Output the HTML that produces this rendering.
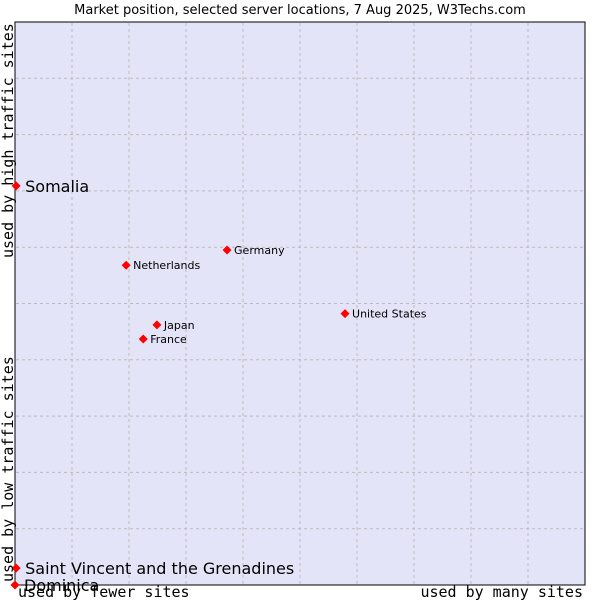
<!DOCTYPE html>
<html><head><meta charset="utf-8"><style>
body{margin:0;background:#fff;width:600px;height:600px;overflow:hidden}
svg{display:block}
</style></head><body>
<svg id="chart" width="600" height="600" xmlns="http://www.w3.org/2000/svg">
<text x="300" y="14" text-anchor="middle" font-family="DejaVu Sans, sans-serif" font-size="13" fill="#000">Market position, selected server locations, 7 Aug 2025, W3Techs.com</text>
<rect x="15" y="22" width="570" height="563" fill="#e4e4f8"/>
<g id="grid"></g>
<rect x="15" y="22" width="570" height="563" fill="none" stroke="#000" stroke-width="1"/>
<g id="points"></g>
<text transform="translate(13,258) rotate(-90)" font-family="DejaVu Sans Mono, monospace" font-size="15" fill="#000">used by high traffic sites</text>
<text transform="translate(13,582) rotate(-90)" font-family="DejaVu Sans Mono, monospace" font-size="15" fill="#000">used by low traffic sites</text>
<text x="18" y="597" font-family="DejaVu Sans Mono, monospace" font-size="15" fill="#000">used by fewer sites</text>
<text x="583" y="597" text-anchor="end" font-family="DejaVu Sans Mono, monospace" font-size="15" fill="#000">used by many sites</text>
</svg>
<script>
const names=["Somalia","Germany","Netherlands","United States","Japan","France","Saint Vincent and the Grenadines","Dominica"];
const xVals=[0.2,37.2,19.5,57.9,24.9,22.5,0.2,0];
const yVals=[70.9,59.5,56.8,48.2,46.2,43.7,3.0,0];
const big=[true,false,false,false,false,false,true,true];
const NS="http://www.w3.org/2000/svg";
const X0=15,X1=585,Y0=585,Y1=22;
const sx=v=>X0+v/100*(X1-X0);
const sy=v=>Y0-v/100*(Y0-Y1);
const grid=document.getElementById('grid');
for(let i=1;i<10;i++){
 const x=X0+i*(X1-X0)/10;
 const l=document.createElementNS(NS,'line');
 l.setAttribute('x1',x);l.setAttribute('x2',x);l.setAttribute('y1',Y1+1);l.setAttribute('y2',Y0-1);
 l.setAttribute('stroke','#bbbbbb');l.setAttribute('stroke-dasharray','3,3');
 
 
 grid.appendChild(l);
 const y=Y0-i*(Y0-Y1)/10;
 const h=document.createElementNS(NS,'line');
 h.setAttribute('y1',y);h.setAttribute('y2',y);h.setAttribute('x1',X0+1);h.setAttribute('x2',X1-1);
 h.setAttribute('stroke','#bbbbbb');h.setAttribute('stroke-dasharray','3,3');
 
 
 grid.appendChild(h);
}
const pts=document.getElementById('points');
names.forEach((n,i)=>{
 const x=sx(xVals[i]),y=sy(yVals[i]);
 const d=document.createElementNS(NS,'path');
 d.setAttribute('d',`M${x},${y-4.5}L${x+4.5},${y}L${x},${y+4.5}L${x-4.5},${y}Z`);
 d.setAttribute('fill','#f00');
 
 
 pts.appendChild(d);
 const t=document.createElementNS(NS,'text');
 t.setAttribute('x',x+(big[i]?9:7));
 t.setAttribute('y',y+(big[i]?6:4));
 t.setAttribute('font-family','DejaVu Sans, sans-serif');
 t.setAttribute('font-size',big[i]?16:11);
 t.textContent=n;
 
 
 pts.appendChild(t);
});
</script>
</body></html>
